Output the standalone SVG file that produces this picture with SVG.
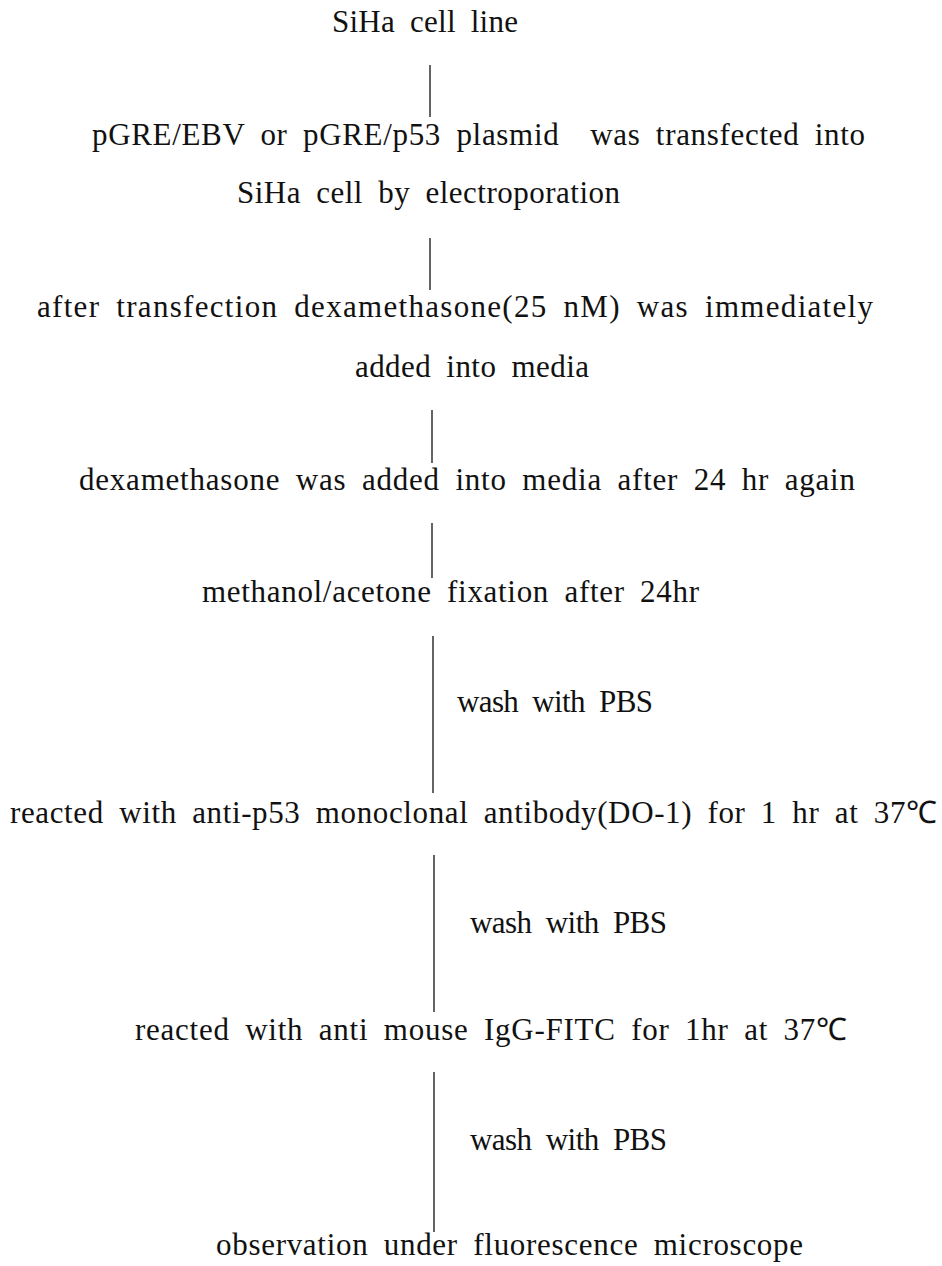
<svg xmlns="http://www.w3.org/2000/svg" width="942" height="1266" viewBox="0 0 942 1266">
<style>
text{font-family:"Liberation Serif","Times New Roman",serif;font-size:31px;fill:#111;word-spacing:7px}
.c line{stroke:#111;stroke-width:1.3}
</style>
<rect width="942" height="1266" fill="#fff"/>
<g id="n1"><text x="332" y="32" textLength="186" lengthAdjust="spacing">SiHa cell line</text></g>
<g id="n2"><text x="92" y="145" textLength="773" lengthAdjust="spacing" style="white-space:pre">pGRE/EBV or pGRE/p53 plasmid  was transfected into</text>
<text x="237" y="203" textLength="383" lengthAdjust="spacing">SiHa cell by electroporation</text></g>
<g id="n3"><text x="37" y="317" textLength="836" lengthAdjust="spacing">after transfection dexamethasone(25 nM) was immediately</text>
<text x="355" y="377" textLength="234" lengthAdjust="spacing">added into media</text></g>
<g id="n4"><text x="79" y="490" textLength="776" lengthAdjust="spacing">dexamethasone was added into media after 24 hr again</text></g>
<g id="n5"><text x="202" y="602" textLength="497" lengthAdjust="spacing">methanol/acetone fixation after 24hr</text></g>
<g id="n6"><text x="10" y="823" textLength="927" lengthAdjust="spacing">reacted with anti-p53 monoclonal antibody(DO-1) for 1 hr at 37℃</text></g>
<g id="n7"><text x="135" y="1040" textLength="712" lengthAdjust="spacing">reacted with anti mouse IgG-FITC for 1hr at 37℃</text></g>
<g id="n8"><text x="216" y="1255" textLength="587" lengthAdjust="spacing">observation under fluorescence microscope</text></g>
<g id="connectors" class="c">
<line x1="430" y1="65" x2="430" y2="117"/>
<line x1="430" y1="238" x2="430" y2="290"/>
<line x1="432" y1="410" x2="432" y2="463"/>
<line x1="432" y1="523" x2="432" y2="578"/>
<line x1="433" y1="636" x2="433" y2="793"/>
<line x1="434" y1="855" x2="434" y2="1012"/>
<line x1="434" y1="1072" x2="434" y2="1232"/>
<text x="457" y="712" textLength="196" lengthAdjust="spacing">wash with PBS</text>
<text x="470" y="933" textLength="197" lengthAdjust="spacing">wash with PBS</text>
<text x="470" y="1150" textLength="197" lengthAdjust="spacing">wash with PBS</text>
</g>
</svg>
